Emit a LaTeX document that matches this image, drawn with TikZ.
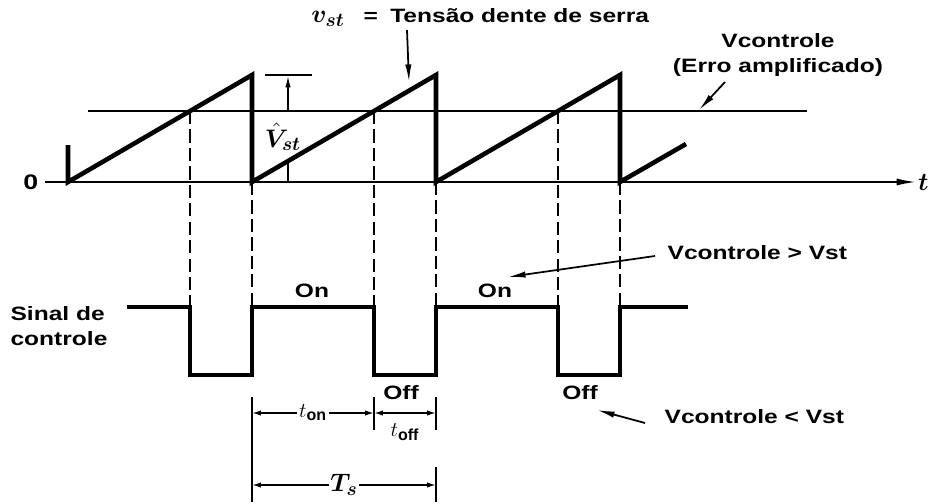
\documentclass[tikz,border=0pt]{standalone}
\usepackage{amsmath}
\usepackage{bm}
\usepackage{fontspec}
\setsansfont{Liberation Sans}
\usetikzlibrary{arrows.meta}
\newcommand{\biglbl}{\fontsize{15}{17}\selectfont}
\newcommand{\midlbl}{\fontsize{13}{15}\selectfont}
\tikzset{
  saw/.style={line width=2.6pt,line join=miter},
  pulse/.style={line width=2.2pt},
  thinline/.style={line width=1pt},
  guide/.style={line width=1pt,dash pattern=on 7.5pt off 3pt},
  dim/.style={line width=0.9pt,{Latex[length=5pt,width=3pt]}-{Latex[length=5pt,width=3pt]}},
  pointer/.style={line width=1pt,-{Latex[length=10pt,width=3.6pt]}},
  lbl/.style={font=\sffamily\bfseries\fontsize{11}{14}\selectfont,xscale=1.27,inner sep=1pt},
  mathlbl/.style={font=\midlbl,inner sep=1pt},
  bigmath/.style={font=\biglbl,inner sep=1pt}
}

\begin{document}
\begin{tikzpicture}[x=0.02cm,y=-0.02cm]
  \useasboundingbox (0,0) rectangle (938,504);
  % axis and control level
  \coordinate (orig) at (45,182);
  \coordinate (tend) at (916,182);
  \coordinate (vc0) at (88,111);
  \coordinate (vc1) at (807,111);
  \draw[thinline,-{Latex[length=11pt,width=4pt]}] (orig) -- (tend);
  \draw[thinline] (vc0) -- (vc1);
  \node[lbl,anchor=east,font=\sffamily\bfseries\fontsize{12}{14}\selectfont] (zero) at (41,182) {0};
  \node[bigmath,anchor=west] (tlbl) at (tend) {$\bm{t}$};

  % projection guides
  \foreach \x in {190,374,558} \draw[guide] (\x,111) -- (\x,307);
  \foreach \x in {252,436,620} \draw[guide] (\x,182) -- (\x,307);

  % sawtooth
  \draw[saw] (68,145) -- (68,182) -- (252,75) -- (252,182) -- (436,75)
    -- (436,182) -- (620,75) -- (620,182) -- (686,144);

  % control signal
  \draw[pulse] (127,307) -| (190,375) -| (252,307) -| (374,375)
    -| (436,307) -| (558,375) -| (620,307) -- (688,307);
  \node[lbl] (on1) at (312,291) {On};
  \node[lbl] (on2) at (495,291) {On};
  \node[lbl] (off1) at (401,393) {Off};
  \node[lbl] (off2) at (580,393) {Off};
  \node[lbl,align=left] (sinal) at (59,326) {Sinal de\\controle};

  % peak amplitude
  \coordinate (vtop) at (288,75);
  \draw[thinline] (265,75) -- (312,75);
  \draw[thinline,-{Latex[length=7pt,width=3pt]}] (288,111) -- (vtop);
  \draw[thinline] (288,160) -- (288,182);
  \node[bigmath] (vhat) at (283,137) {$\bm{\hat{V}}_{\bm{st}}$};

  % time intervals
  \draw[thinline] (252,397) -- (252,502);
  \draw[thinline] (374,397) -- (374,430);
  \draw[thinline] (436,397) -- (436,430);
  \draw[thinline] (436,467) -- (436,502);
  \coordinate (ton0) at (252,413);
  \coordinate (ton1) at (374,413);
  \coordinate (toff1) at (436,413);
  \coordinate (ts0) at (252,485);
  \coordinate (ts1) at (436,485);
  \draw[dim] (ton0) -- node[mathlbl,fill=white] (tonlbl) {$t_{\textsf{\bfseries on}}$} (ton1);
  \draw[dim] (ton1) -- (toff1);
  \node[mathlbl] (tofflbl) at (405,432) {$t_{\textsf{\bfseries off}}$};
  \draw[dim] (ts0) -- node[bigmath,fill=white] (tslbl) {$\bm{T}_{\bm{s}}$} (ts1);

  % annotations
  \node[bigmath] (vstsym) at (328,19) {$\bm{v}_{\bm{st}}$};
  \node[lbl,anchor=west] (vst) at (361,16) {=\hspace{0.5em}Tensão dente de serra};
  \coordinate (vst0) at (407,30);
  \coordinate (vst1) at (409,82);
  \draw[pointer] (vst0) -- (vst1);
  \node[lbl,align=center] (vcl) at (778,55) {Vcontrole\\(Erro amplificado)};
  \coordinate (vc2) at (725,82);
  \coordinate (vc3) at (699,110);
  \draw[pointer] (vc2) -- (vc3);
  \node[lbl,anchor=west] (gt) at (665,253) {Vcontrole > Vst};
  \coordinate (gt0) at (655,256);
  \coordinate (gt1) at (508,277);
  \draw[pointer] (gt0) -- (gt1);
  \node[lbl,anchor=west] (lt) at (662,417) {Vcontrole < Vst};
  \coordinate (lt0) at (645,423);
  \coordinate (lt1) at (597,410);
  \draw[pointer] (lt0) -- (lt1);
\end{tikzpicture}
\end{document}
